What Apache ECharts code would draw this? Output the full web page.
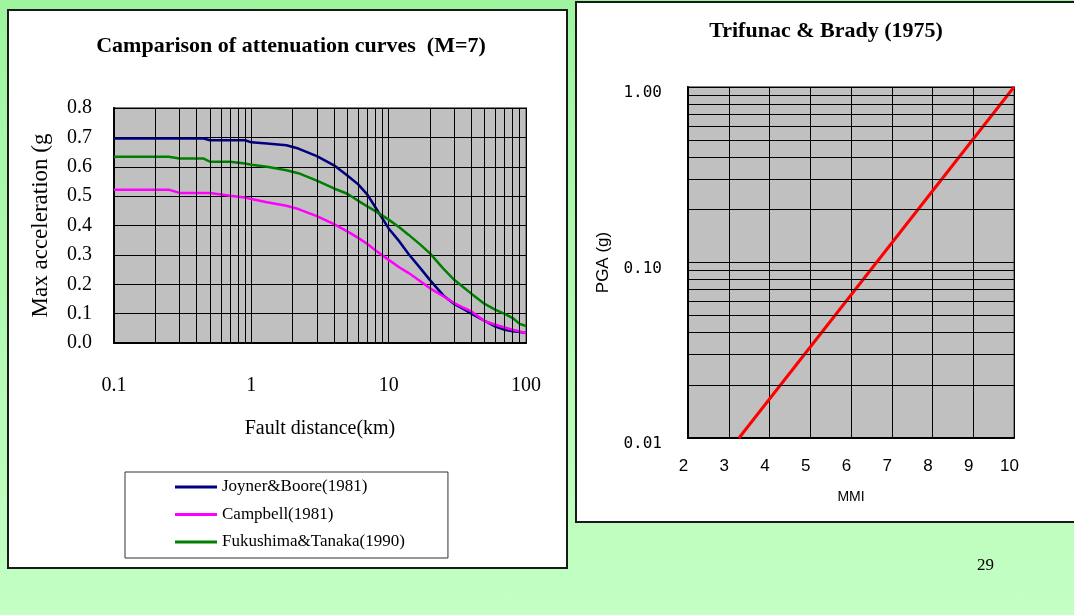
<!DOCTYPE html>
<html>
<head>
<meta charset="utf-8">
<script src="https://cdn.jsdelivr.net/npm/echarts@6/dist/echarts.min.js"></script>
<style>
  html, body { margin: 0; padding: 0; }
  body { width: 1074px; height: 615px; overflow: hidden; position: relative;
         background: linear-gradient(#9ef59e, #c4ffc4); }
  .panel { position: absolute; background: #fff; border: 2px solid #1a1a1a; box-sizing: border-box; }
  #chart { position: absolute; left: 0; top: 0; width: 1074px; height: 615px; }
</style>
</head>
<body>
<div class="panel" style="left:7px;top:9px;width:561px;height:560px"></div>
<div class="panel" style="left:575px;top:1px;width:530px;height:522px"></div>
<div id="chart"></div>
<script>
// fault distance (km) and max acceleration (g)
var distance = [0.1, 0.2, 0.25, 0.3, 0.45, 0.5, 0.7, 0.9, 1, 1.3, 1.8, 2.2, 3, 4, 5, 6, 7, 8,
  10, 12, 14, 17, 20, 25, 30, 35, 40, 50, 60, 70, 80, 90, 100]
var joynerBoore = [0.696, 0.696, 0.696, 0.696, 0.696, 0.69, 0.69, 0.69, 0.683, 0.679, 0.673, 0.662,
  0.636, 0.605, 0.57, 0.54, 0.505, 0.462, 0.39, 0.345, 0.302, 0.255, 0.214, 0.162, 0.133, 0.116,
  0.1, 0.075, 0.056, 0.045, 0.04, 0.037, 0.034]
var campbell = [0.522, 0.522, 0.522, 0.511, 0.511, 0.511, 0.501, 0.495, 0.49, 0.479, 0.467, 0.456,
  0.432, 0.405, 0.38, 0.358, 0.337, 0.316, 0.283, 0.257, 0.238, 0.21, 0.186, 0.159, 0.136, 0.12,
  0.108, 0.074, 0.062, 0.053, 0.045, 0.039, 0.033]
var fukushimaTanaka = [0.634, 0.634, 0.634, 0.628, 0.628, 0.617, 0.617, 0.611, 0.607, 0.6, 0.588, 0.578,
  0.553, 0.526, 0.508, 0.484, 0.465, 0.449, 0.42, 0.393, 0.368, 0.335, 0.305, 0.253, 0.215, 0.19,
  0.168, 0.133, 0.113, 0.099, 0.085, 0.065, 0.058]
var distanceMinor = [0.2, 0.3, 0.4, 0.5, 0.6, 0.7, 0.8, 0.9, 2, 3, 4, 5, 6, 7, 8, 9,
  20, 30, 40, 50, 60, 70, 80, 90]

// Trifunac & Brady (1975): MMI vs PGA (g)
var mmi = [3.25, 10]
var pga = [0.01, 1.0]
var pgaMinor = [0.02, 0.03, 0.04, 0.05, 0.06, 0.07, 0.08, 0.09, 0.2, 0.3, 0.4, 0.5, 0.6, 0.7, 0.8, 0.9]

var serif = 'Liberation Serif'
var sans = 'Liberation Sans'

function pairs(xs, ys) {
  return xs.map(function (x, i) { return [x, ys[i]] })
}

function gridLines(values, key, xi, yi) {
  return {
    type: 'line', xAxisIndex: xi, yAxisIndex: yi, data: [], silent: true, z: 1,
    markLine: {
      silent: true, symbol: ['none', 'none'], label: { show: false },
      lineStyle: { color: '#000', width: 1, type: 'solid' },
      data: values.map(function (v) { var o = {}; o[key] = v; return o })
    }
  }
}

var chart = echarts.init(document.getElementById('chart'))
var option = {
  animation: false,
  title: [
    {
      text: 'Camparison of attenuation curves  (M=7)', left: 291, top: 35, padding: 0,
      textAlign: 'center', textVerticalAlign: 'top',
      textStyle: { fontFamily: serif, fontWeight: 'bold', fontSize: 22, color: '#000' }
    },
    {
      text: 'Trifunac & Brady (1975)', left: 826, top: 20, padding: 0,
      textAlign: 'center', textVerticalAlign: 'top',
      textStyle: { fontFamily: serif, fontWeight: 'bold', fontSize: 22, color: '#000' }
    }
  ],
  legend: {
    data: ['Joyner&Boore(1981)', 'Campbell(1981)', 'Fukushima&Tanaka(1990)'],
    orient: 'vertical', left: 125, top: 472,
    icon: 'rect', itemWidth: 42, itemHeight: 3, itemGap: 9.5,
    padding: [6, 43, 7, 50],
    backgroundColor: '#fff', borderColor: '#333', borderWidth: 1,
    textStyle: { fontFamily: serif, fontSize: 17, color: '#000', lineHeight: 18 }
  },
  grid: [
    { left: 114, top: 108, width: 412, height: 235, show: true, backgroundColor: '#c0c0c0',
      borderColor: '#808080', borderWidth: 2 },
    { left: 688, top: 87, width: 326, height: 351, show: true, backgroundColor: '#c0c0c0',
      borderColor: '#808080', borderWidth: 2 }
  ],
  xAxis: [
    {
      gridIndex: 0, type: 'log', logBase: 10, min: 0.1, max: 100,
      name: 'Fault distance(km)', nameLocation: 'middle', nameGap: 76,
      nameTextStyle: { fontFamily: serif, fontSize: 20, color: '#000' },
      axisLine: { lineStyle: { color: '#000', width: 2 } },
      axisTick: { show: false },
      axisLabel: {
        margin: 33, fontFamily: serif, fontSize: 20, color: '#000',
        formatter: function (v) { return String(Number(v.toPrecision(3))) }
      },
      splitLine: { show: true, lineStyle: { color: '#000', width: 1 } }
    },
    {
      gridIndex: 1, type: 'value', min: 2, max: 10, interval: 1,
      name: 'MMI', nameLocation: 'middle', nameGap: 52,
      nameTextStyle: { fontFamily: sans, fontSize: 14, color: '#000' },
      axisLine: { lineStyle: { color: '#000', width: 2 } },
      axisTick: { show: false },
      axisLabel: { margin: 20, fontFamily: sans, fontSize: 17, color: '#000', padding: [0, 9, 0, 0] },
      splitLine: { show: true, lineStyle: { color: '#000', width: 1 } }
    }
  ],
  yAxis: [
    {
      gridIndex: 0, type: 'value', min: 0, max: 0.8, interval: 0.1,
      name: 'Max acceleration (g', nameLocation: 'middle', nameGap: 62,
      nameTextStyle: { fontFamily: serif, fontSize: 23, color: '#000' },
      axisLine: { show: true, lineStyle: { color: '#000', width: 2 } },
      axisTick: { show: false },
      axisLabel: {
        margin: 22, fontFamily: serif, fontSize: 20, color: '#000',
        formatter: function (v) { return v.toFixed(1) }
      },
      splitLine: { show: true, lineStyle: { color: '#000', width: 1 } }
    },
    {
      gridIndex: 1, type: 'log', logBase: 10, min: 0.01, max: 1,
      name: 'PGA (g)', nameLocation: 'middle', nameGap: 76,
      nameTextStyle: { fontFamily: sans, fontSize: 17, color: '#000' },
      axisLine: { show: true, lineStyle: { color: '#000', width: 2 } },
      axisTick: { show: false },
      axisLabel: {
        margin: 26, fontFamily: 'DejaVu Sans Mono', fontSize: 16, color: '#000',
        verticalAlign: 'top', lineHeight: 12,
        formatter: function (v) { return v.toFixed(2) }
      },
      splitLine: { show: true, lineStyle: { color: '#000', width: 1 } }
    }
  ],
  graphic: [
    { type: 'text', left: 977, top: 557, style: { text: '29', font: '17px "Liberation Serif"', fill: '#000' } }
  ],
  series: [
    gridLines(distanceMinor, 'xAxis', 0, 0),
    gridLines(pgaMinor, 'yAxis', 1, 1),
    { name: 'Joyner&Boore(1981)', type: 'line', xAxisIndex: 0, yAxisIndex: 0, symbol: 'none',
      color: '#000080', lineStyle: { width: 2.5 }, z: 3, data: pairs(distance, joynerBoore) },
    { name: 'Campbell(1981)', type: 'line', xAxisIndex: 0, yAxisIndex: 0, symbol: 'none',
      color: '#ff00ff', lineStyle: { width: 2.5 }, z: 3, data: pairs(distance, campbell) },
    { name: 'Fukushima&Tanaka(1990)', type: 'line', xAxisIndex: 0, yAxisIndex: 0, symbol: 'none',
      color: '#008000', lineStyle: { width: 2.5 }, z: 3, data: pairs(distance, fukushimaTanaka) },
    { name: 'Trifunac & Brady (1975)', type: 'line', xAxisIndex: 1, yAxisIndex: 1, symbol: 'none',
      color: '#ff0000', lineStyle: { width: 3 }, z: 3, data: pairs(mmi, pga) }
  ]
}
chart.setOption(option)
</script>
</body>
</html>
